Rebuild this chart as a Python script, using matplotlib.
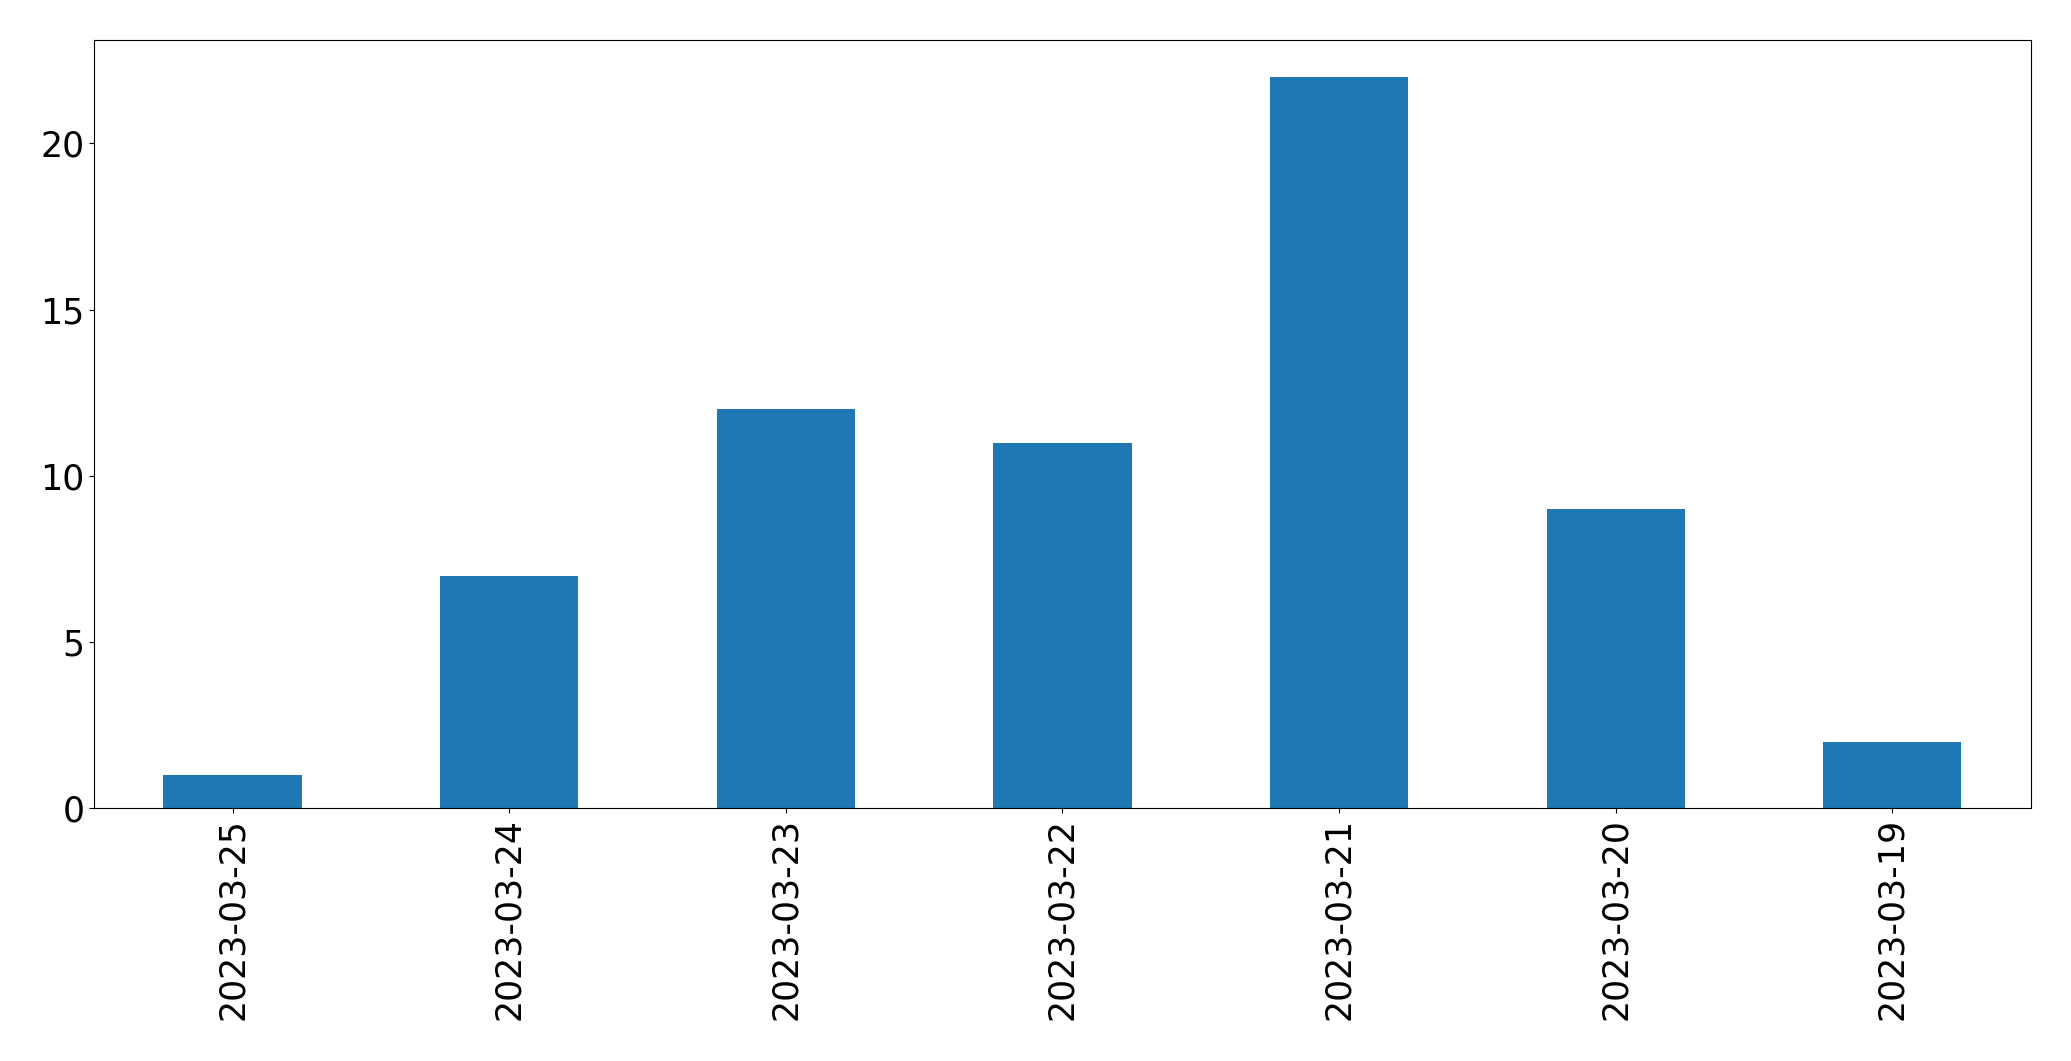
import matplotlib
matplotlib.use("Agg")
import matplotlib.pyplot as plt
import numpy as np

# counts per day
dates = ["2023-03-25", "2023-03-24", "2023-03-23", "2023-03-22",
         "2023-03-21", "2023-03-20", "2023-03-19"]
counts = [1, 7, 12, 11, 22, 9, 2]

fig, ax = plt.subplots(figsize=(20.71, 10.61), dpi=100)
x = np.arange(len(dates))
ax.bar(x, counts, width=0.5, color="#1f77b4")
ax.set_xticks(x)
ax.set_xticklabels(dates, rotation=90)
ax.set_xlim(-0.5, len(dates) - 0.5)
ax.set_ylim(0, 23.1)
ax.tick_params(labelsize=25)
plt.subplots_adjust(left=0.0455, right=0.9805, top=0.962, bottom=0.238)
plt.savefig("out.png")
